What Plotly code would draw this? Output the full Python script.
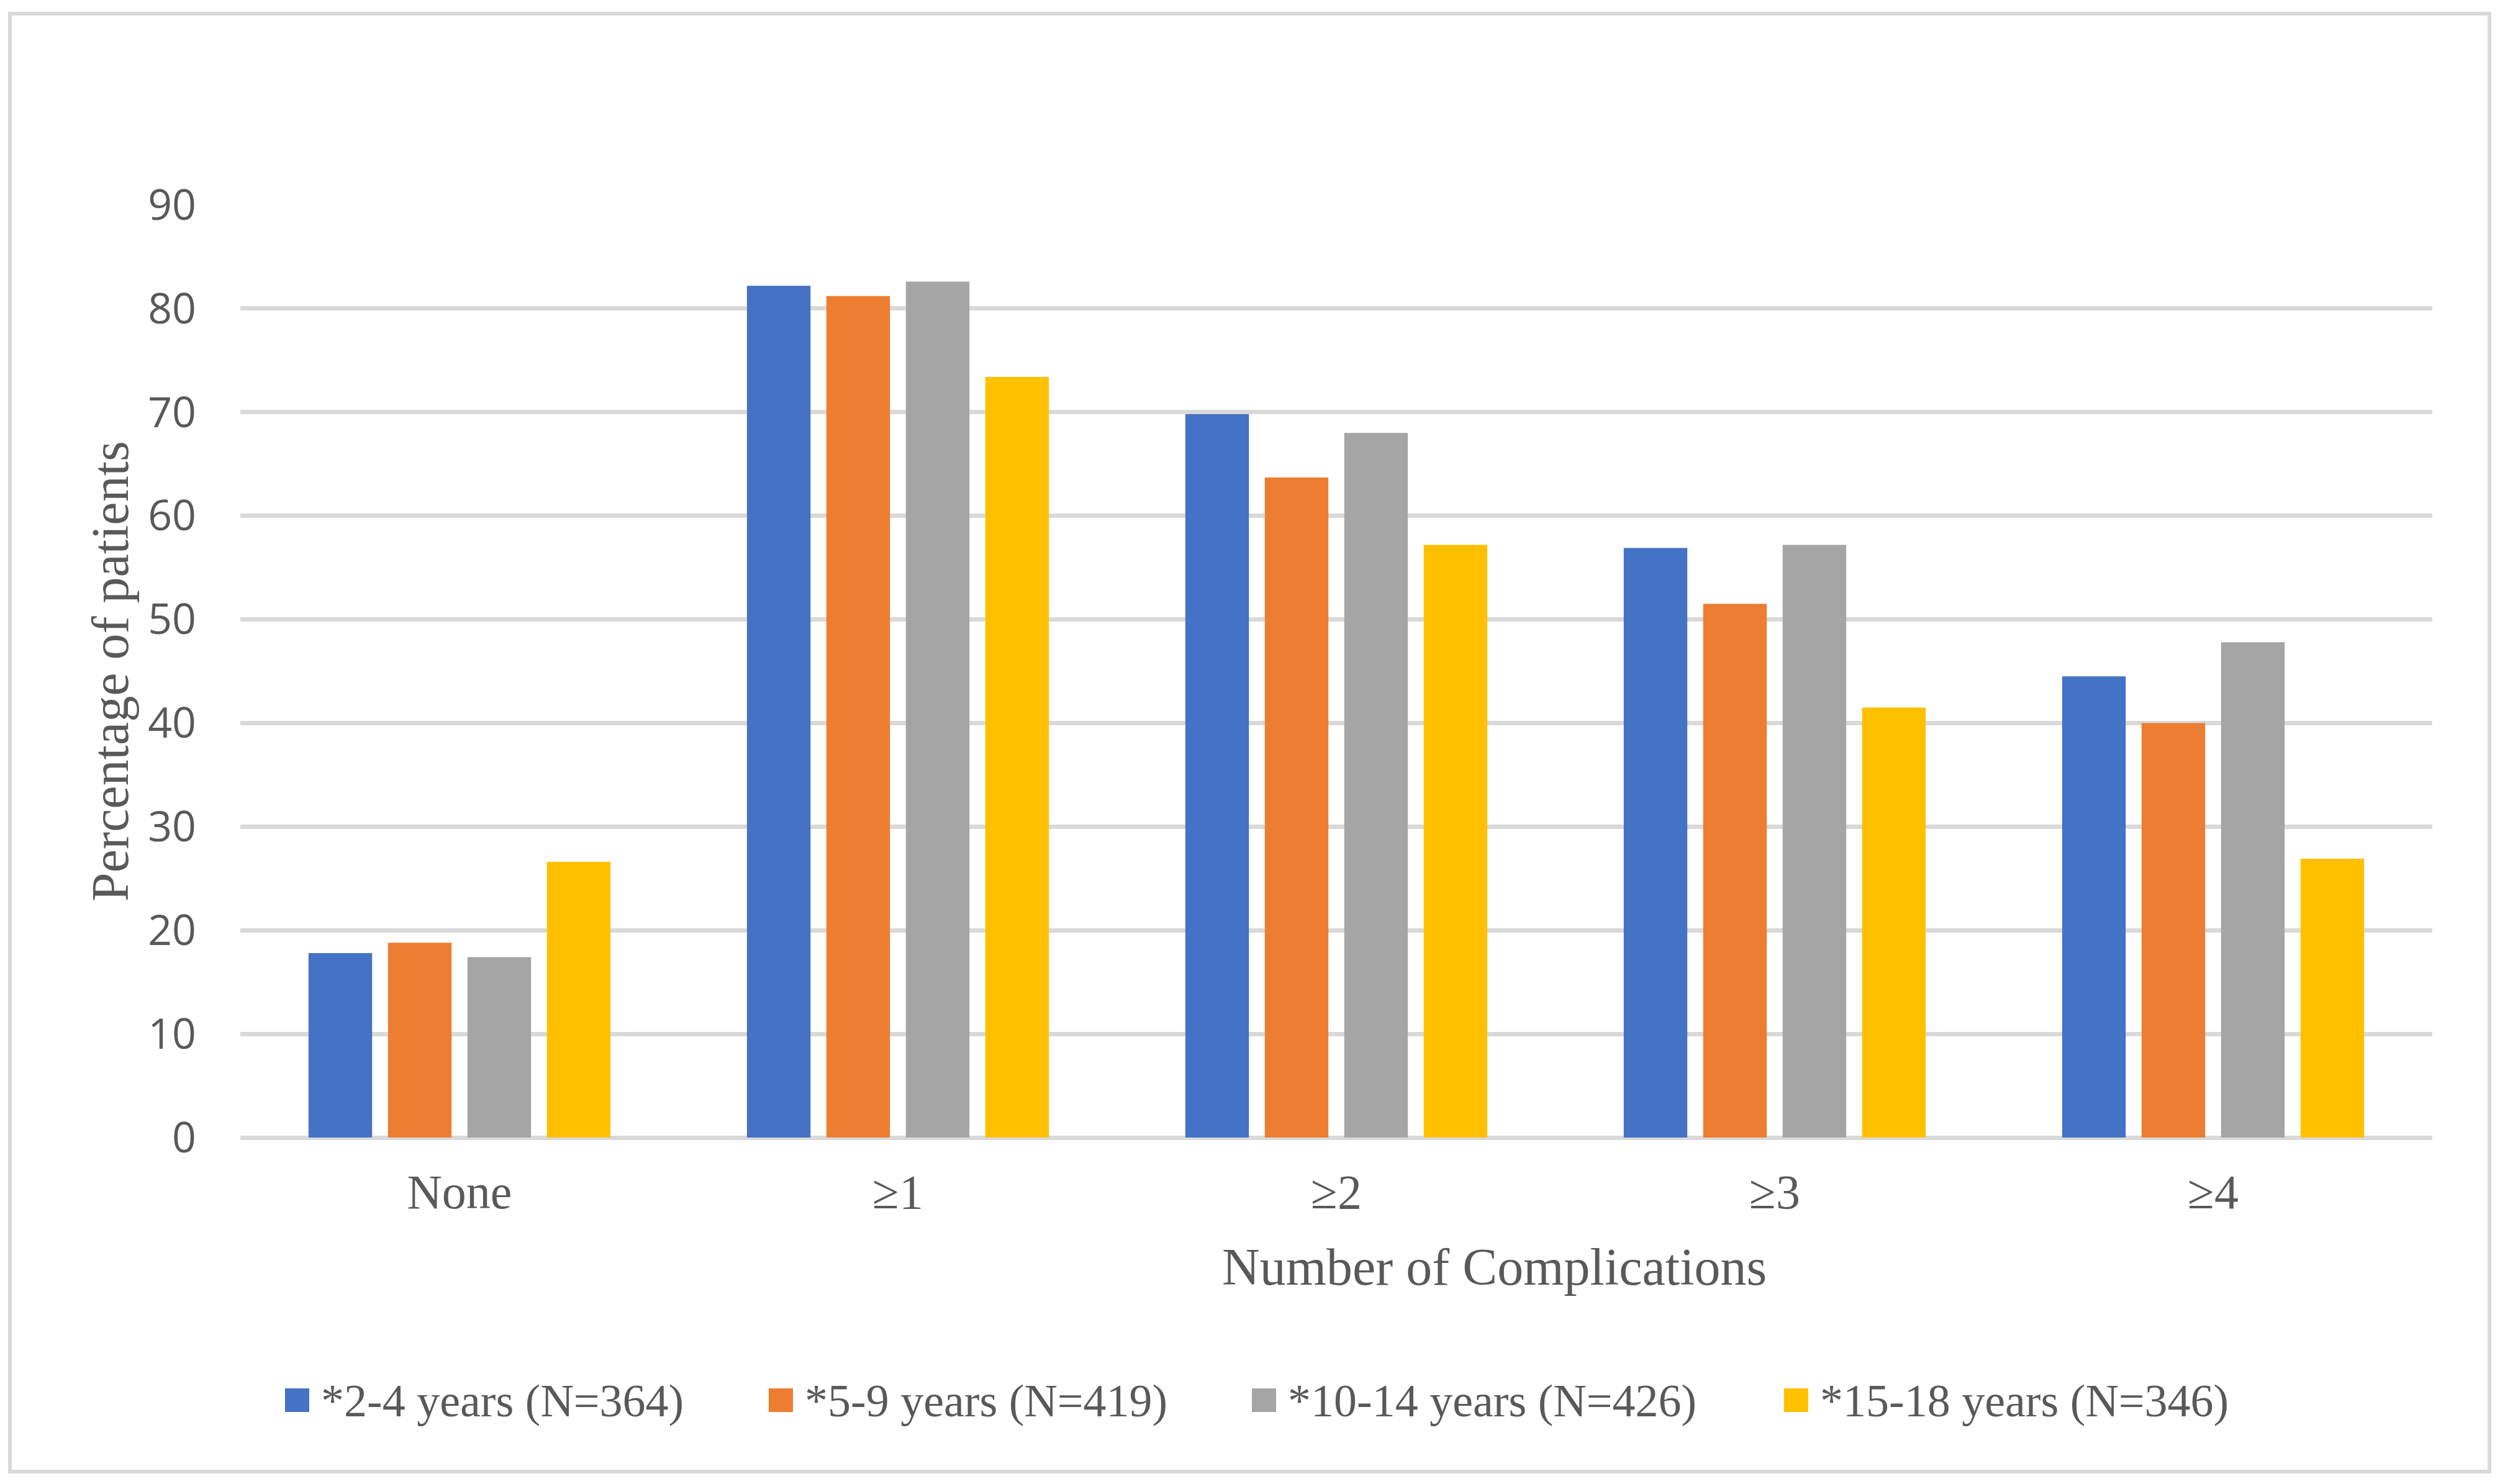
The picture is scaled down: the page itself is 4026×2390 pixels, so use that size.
import plotly.graph_objects as go

# ---------------- data ----------------
categories = ['None', '≥1', '≥2', '≥3', '≥4']
series_names = ['*2-4 years (N=364)', '*5-9 years (N=419)',
                '*10-14 years (N=426)', '*15-18 years (N=346)']
age_2_4 = [17.8, 82.2, 69.8, 56.9, 44.5]
age_5_9 = [18.8, 81.2, 63.7, 51.5, 40.0]
age_10_14 = [17.4, 82.6, 68.0, 57.2, 47.8]
age_15_18 = [26.6, 73.4, 57.2, 41.5, 26.9]
y_ticks = [0, 10, 20, 30, 40, 50, 60, 70, 80, 90]

series_values = [age_2_4, age_5_9, age_10_14, age_15_18]
colors = ['#4472C4', '#ED7D31', '#A5A5A5', '#FFC000']

# ---------------- page geometry (pixels on the page) ----------------
W, H = 4026, 2390
OFF = 8  # default body margin of the html page
L, R, T, B = 387, 3917, 330, 1832
GREY_TXT = '#595959'
GRID = '#D9D9D9'
SERIF = 'Liberation Serif, Times New Roman, serif'


def px_x(x):
    return (x - L) / (R - L)


def px_y(y):
    return (B - y) / (B - T)


fig = go.Figure()
for name, vals, col in zip(series_names, series_values, colors):
    fig.add_trace(go.Bar(x=categories, y=vals, name=name,
                         marker=dict(color=col, line=dict(width=0))))

fig.update_layout(
    width=W - 2 * OFF, height=H - 2 * OFF,
    margin=dict(l=L - OFF, r=(W - OFF) - R, t=T - OFF, b=(H - OFF) - B, pad=0),
    paper_bgcolor='white', plot_bgcolor='white',
    barmode='group', bargap=0.275, bargroupgap=0.2,
    showlegend=False,
)

fig.update_xaxes(
    showgrid=False, showline=False, zeroline=False, ticks='',
    tickfont=dict(family=SERIF, size=78, color=GREY_TXT),
    ticklabelstandoff=35,
)
fig.update_yaxes(
    range=[0, 90], tickvals=y_ticks, ticks='',
    showgrid=True, gridcolor=GRID, gridwidth=7,
    zeroline=True, zerolinecolor=GRID, zerolinewidth=7,
    showline=False,
    tickfont=dict(family='Open Sans, sans-serif', size=68, color=GREY_TXT),
    ticklabelstandoff=70,
)

# outer frame
fig.add_shape(type='rect', xref='paper', yref='paper',
              x0=px_x(16), x1=px_x(4009), y0=px_y(2370), y1=px_y(22),
              line=dict(color=GRID, width=6), fillcolor='rgba(0,0,0,0)')

# axis titles
fig.add_annotation(text='Number of Complications', xref='paper', yref='paper',
                   x=px_x(2406), y=px_y(2040), xanchor='center', yanchor='middle',
                   showarrow=False, font=dict(family=SERIF, size=84, color=GREY_TXT))
fig.add_annotation(text='Percentage of patients', xref='paper', yref='paper',
                   x=px_x(177), y=px_y(1081), xanchor='center', yanchor='middle',
                   textangle=-90, showarrow=False,
                   font=dict(family=SERIF, size=84, color=GREY_TXT))

# legend row
legend_x = [459, 1238, 2016, 2873]
for name, col, lx in zip(series_names, colors, legend_x):
    fig.add_shape(type='rect', xref='paper', yref='paper',
                  x0=px_x(lx), x1=px_x(lx + 39), y0=px_y(2274), y1=px_y(2236),
                  line=dict(width=0), fillcolor=col)
    fig.add_annotation(text=name, xref='paper', yref='paper',
                       x=px_x(lx + 56), y=px_y(2256), xanchor='left', yanchor='middle',
                       showarrow=False, font=dict(family=SERIF, size=74, color=GREY_TXT))

fig.write_html('out.html')
